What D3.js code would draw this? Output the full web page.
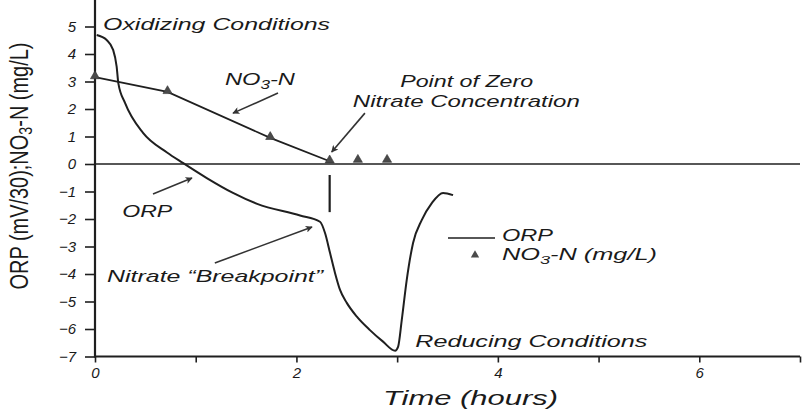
<!DOCTYPE html>
<html><head><meta charset="utf-8">
<script src="https://cdn.jsdelivr.net/npm/d3@7"></script>
<style>
body{margin:0;background:#fff;}
text{font-family:"Liberation Sans",Arial,sans-serif;font-style:italic;fill:#1a1a1a;}
</style></head>
<body><svg id="c" width="811" height="412"></svg>
<script>
// ORP curve (mV/30) vs time (hours)
const orpTime  = [0.017,0.116,0.18,0.215,0.232,0.298,0.477,0.715,0.877,1.11,1.37,1.61,2.036,2.234,2.284,2.334,2.383,2.433,2.50,2.60,2.73,2.86,2.98,3.01,3.046,3.095,3.158,3.244,3.344,3.456,3.555];
const orpValue = [4.69,4.51,4.15,3.54,2.93,2.22,1.13,0.42,0.03,-0.51,-1.05,-1.45,-1.87,-2.10,-2.51,-3.24,-3.96,-4.58,-5.05,-5.55,-6.04,-6.46,-6.79,-6.64,-5.67,-4.22,-2.87,-2.04,-1.42,-1.05,-1.13];
// NO3-N (mg/L)
const no3Time  = [0, 0.72, 1.74, 2.33, 2.61, 2.90];
const no3Value = [3.16, 2.62, 0.95, 0.10, 0.12, 0.12];
const no3LineCount = 4; // line drawn until point of zero nitrate
const yTicks = [-7,-6,-5,-4,-3,-2,-1,0,1,2,3,4,5];
const xTicks = [0,1,2,3,4,5,6,7];
const xTickLabels = {0:"0",2:"2",4:"4",6:"6"};

const svg = d3.select("#c");
const x = d3.scaleLinear().domain([0,7]).range([95,800]);
const y = d3.scaleLinear().domain([-7,5]).range([356.5,26.5]);
const ink = "#1f1f1f";

// Y axis
const ya = svg.append("g").attr("transform",`translate(${x(0)},0)`)
  .call(d3.axisLeft(y).tickValues(yTicks).tickSize(10).tickPadding(9).tickFormat(d3.format("d")));
ya.select(".domain").remove();
ya.selectAll("line").attr("stroke",ink).attr("stroke-width",1.6);
ya.selectAll("text").style("font-size","15px").style("font-family","Liberation Sans").style("font-style","italic").attr("fill",ink);
svg.append("line").attr("x1",x(0)).attr("x2",x(0)).attr("y1",0).attr("y2",y(-7)+1)
  .attr("stroke",ink).attr("stroke-width",2.2);

// X axis
const xa = svg.append("g").attr("transform",`translate(0,${y(-7)})`)
  .call(d3.axisBottom(x).tickValues(xTicks).tickSize(6).tickPadding(5).tickFormat(d=>xTickLabels[d]||""));
xa.select(".domain").remove();
xa.selectAll("line").attr("stroke",ink).attr("stroke-width",1.6);
xa.selectAll("text").style("font-size","15px").style("font-family","Liberation Sans").style("font-style","italic").attr("fill",ink);
svg.append("line").attr("x1",x(0)).attr("x2",x(7)).attr("y1",y(-7)).attr("y2",y(-7))
  .attr("stroke",ink).attr("stroke-width",1.8);

// zero line
svg.append("line").attr("x1",x(0)).attr("x2",x(7)).attr("y1",y(0)).attr("y2",y(0))
  .attr("stroke",ink).attr("stroke-width",1.6);

// ORP curve
const orpPts = orpTime.map((t,i)=>[t,orpValue[i]]);
svg.append("path").datum(orpPts)
  .attr("d", d3.line().x(d=>x(d[0])).y(d=>y(d[1])).curve(d3.curveMonotoneX))
  .attr("fill","none").attr("stroke",ink).attr("stroke-width",2);

// NO3 line + markers
const no3Pts = no3Time.map((t,i)=>[t,no3Value[i]]);
svg.append("path").datum(no3Pts.slice(0,no3LineCount))
  .attr("d", d3.line().x(d=>x(d[0])).y(d=>y(d[1])))
  .attr("fill","none").attr("stroke",ink).attr("stroke-width",1.8);
svg.selectAll(".tri").data(no3Pts).join("path")
  .attr("transform",d=>`translate(${x(d[0])},${y(d[1])-1})`)
  .attr("d", d3.symbol(d3.symbolTriangle, 36))
  .attr("fill","#4a4a4a").attr("stroke","#333").attr("stroke-width",0.6);

// annotation arrows (data units)
const arrows = [
  {from:[1.817,2.58], to:[1.37,1.85]},
  {from:[2.68,1.85], to:[2.35,0.44]},
  {from:[0.576,-1.09], to:[0.963,-0.51]},
  {from:[1.19,-3.6], to:[2.155,-2.29]}
];
svg.append("defs").append("marker").attr("id","ah").attr("viewBox","0 0 10 10")
  .attr("refX",9).attr("refY",5).attr("markerWidth",12).attr("markerHeight",7)
  .attr("markerUnits","userSpaceOnUse").attr("orient","auto")
  .append("path").attr("d","M0,0 L10,5 L0,10 L2.5,5 Z").attr("fill","#333");
svg.selectAll(".arr").data(arrows).join("line")
  .attr("x1",d=>x(d.from[0])).attr("y1",d=>y(d.from[1]))
  .attr("x2",d=>x(d.to[0])).attr("y2",d=>y(d.to[1]))
  .attr("stroke","#333").attr("stroke-width",1.6).attr("marker-end","url(#ah)");

// vertical marker below point of zero nitrate
svg.append("line").attr("x1",x(2.33)).attr("x2",x(2.33)).attr("y1",y(-0.4)).attr("y2",y(-1.75))
  .attr("stroke",ink).attr("stroke-width",2.2);

// text labels
function label(parts, px, py, w, size){
  size = size || 17;
  const t = svg.append("text").attr("x",px).attr("y",py).style("font-size",size+"px");
  parts.forEach(p=>{
    if (p.sub) t.append("tspan").attr("dy",4).style("font-size",(size*0.72)+"px").text(p.sub);
    else t.append("tspan").attr("dy",p.after?-4:0).text(p.t);
  });
  if (w) t.attr("textLength",w).attr("lengthAdjust","spacingAndGlyphs");
  return t;
}
label([{t:"Oxidizing Conditions"}], x(0.08), y(4.87), 227);
label([{t:"NO"},{sub:"3"},{t:"-N",after:true}], x(1.29), y(2.87), 70);
label([{t:"Point of Zero"}], x(3.03), y(2.80), 133);
label([{t:"Nitrate Concentration"}], x(2.56), y(2.07), 227);
label([{t:"ORP"}], x(0.27), y(-1.93), 50);
label([{t:"Nitrate \u201cBreakpoint\u201d"}], x(0.12), y(-4.29), 216);
label([{t:"Reducing Conditions"}], x(3.18), y(-6.65), 232);

// legend
svg.append("line").attr("x1",448).attr("x2",495).attr("y1",238).attr("y2",238).attr("stroke",ink).attr("stroke-width",1.5);
label([{t:"ORP"}], 502, 241, 51, 16);
svg.append("path").attr("transform","translate(475,255)").attr("d",d3.symbol(d3.symbolTriangle,30)).attr("fill","#4a4a4a");
label([{t:"NO"},{sub:"3"},{t:"-N (mg/L)",after:true}], 502, 260, 155, 16);

// axis titles
label([{t:"Time (hours)"}], 383, 405, 175, 21);
const yt = svg.append("text").attr("transform","translate(28,166) rotate(-90)").attr("text-anchor","middle")
  .style("font-size","25px").style("font-style","normal")
  .attr("textLength",247).attr("lengthAdjust","spacingAndGlyphs");
yt.append("tspan").text("ORP (mV/30);NO");
yt.append("tspan").attr("dy",4).style("font-size","18px").text("3");
yt.append("tspan").attr("dy",-4).text("-N (mg/L)");
</script></body></html>
